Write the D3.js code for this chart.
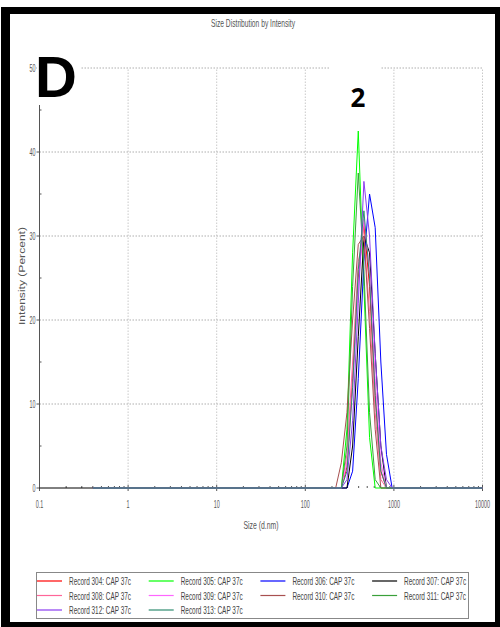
<!DOCTYPE html>
<html>
<head>
<meta charset="utf-8">
<script src="https://cdn.jsdelivr.net/npm/d3@7"></script>
<style>
  body { margin: 0; background: #fff; }
  svg { display: block; }
  .narrow { font-family: "Liberation Sans", Arial, sans-serif; }
</style>
</head>
<body>
<script>
// ─── DATA ─────────────────────────────────────────────────────────────────────

// size classes (d.nm) – only the ones around the peak, plus the two ends
const SIZES = [0.4, 220.2, 255.0, 295.3, 342.0, 396.1, 458.7, 531.2, 615.1, 712.4, 825.0, 955.4, 1106, 10000];

const R304 = [0, 0, 0, 2.5, 13, 25, 31.5, 24, 11, 2, 0, 0, 0, 0];
const R305 = [0, 0, 0, 7, 28, 42.5, 24, 6, 0, 0, 0, 0, 0, 0];
const R306 = [0, 0, 0, 0, 2, 13, 27, 35, 31, 15, 4, 0, 0, 0];
const R307 = [0, 0, 0, 0, 5, 18, 30, 28, 16, 5, 0, 0, 0, 0];
const R308 = [0, 0, 0, 4, 15, 27, 30, 21, 9, 1, 0, 0, 0, 0];
const R309 = [0, 0, 0, 3, 12, 24, 32, 26, 13, 3, 0, 0, 0, 0];
const R310 = [0, 0, 3, 9, 20, 29, 30, 19, 7, 0, 0, 0, 0, 0];
const R311 = [0, 0, 0, 5, 24, 37.5, 26, 9, 1, 0, 0, 0, 0, 0];
const R312 = [0, 0, 0, 1, 8, 22, 36.5, 30, 16, 5, 1, 0, 0, 0];
const R313 = [0, 0, 0, 2, 12, 26, 33, 25, 11, 2, 0, 0, 0, 0];

const RECORDS = [
  { name: "Record 304: CAP 37c", values: R304, color: "#ff0000" },
  { name: "Record 305: CAP 37c", values: R305, color: "#00ff00" },
  { name: "Record 306: CAP 37c", values: R306, color: "#0000ff" },
  { name: "Record 307: CAP 37c", values: R307, color: "#000000" },
  { name: "Record 308: CAP 37c", values: R308, color: "#ff6699" },
  { name: "Record 309: CAP 37c", values: R309, color: "#ff66ff" },
  { name: "Record 310: CAP 37c", values: R310, color: "#a85050" },
  { name: "Record 311: CAP 37c", values: R311, color: "#3aa03a" },
  { name: "Record 312: CAP 37c", values: R312, color: "#8a3cf0" },
  { name: "Record 313: CAP 37c", values: R313, color: "#2e8b70" },
];

const X_TICKS = [0.1, 1, 10, 100, 1000, 10000];
const Y_TICKS = [0, 10, 20, 30, 40, 50];

// the software's font is very condensed – squeeze text to a target width
function condense(sel, widthFn) {
  sel.attr("textLength", widthFn).attr("lengthAdjust", "spacingAndGlyphs");
}
const digitWidth = s => String(s).replace(".", "").length * 3 + (String(s).includes(".") ? 1.5 : 0);

// ─── LAYOUT ───────────────────────────────────────────────────────────────────

const W = 500, H = 627;
const svg = d3.select("body").append("svg").attr("width", W).attr("height", H);

// black frame
svg.append("rect").attr("x", 1).attr("y", 7).attr("width", 499).attr("height", 620).attr("fill", "#000");
svg.append("rect").attr("x", 10).attr("y", 14).attr("width", 485).attr("height", 608).attr("fill", "#fff");

const x = d3.scaleLog().domain([0.1, 10000]).range([39.5, 482.5]);
const y = d3.scaleLinear().domain([0, 50]).range([488, 68]);

// ── grid ──────────────────────────────────────────────────────────────────
const grid = svg.append("g").attr("stroke", "#999").attr("stroke-width", 0.8)
  .attr("stroke-dasharray", "1.5,1.5");

grid.selectAll(".hg").data(Y_TICKS.slice(1)).enter().append("line")
  .attr("x1", x(0.1)).attr("x2", x(10000))
  .attr("y1", d => y(d)).attr("y2", d => y(d));

grid.selectAll(".vg").data(X_TICKS.slice(1)).enter().append("line")
  .attr("x1", d => x(d)).attr("x2", d => x(d))
  .attr("y1", y(0)).attr("y2", y(50))
  .attr("stroke", "#bbb");

// ── axes ──────────────────────────────────────────────────────────────────
const axes = svg.append("g").attr("stroke", "#555").attr("stroke-width", 1);

axes.append("line").attr("x1", x(0.1)).attr("x2", x(0.1)).attr("y1", y(0)).attr("y2", y(50));

// y ticks (major every 10, minor every 5)
axes.selectAll(".yt").data(d3.range(0, 51, 5)).enter().append("line")
  .attr("x1", d => x(0.1) - (d % 10 === 0 ? 3 : 0)).attr("x2", d => x(0.1) + (d % 10 === 0 ? 0 : 2))
  .attr("y1", d => y(d)).attr("y2", d => y(d));

// x minor ticks
const minor = [];
for (let e = -1; e < 4; e++) for (let k = 2; k <= 9; k++) minor.push(k * Math.pow(10, e));
axes.selectAll(".xm").data(minor).enter().append("line")
  .attr("x1", d => x(d)).attr("x2", d => x(d))
  .attr("y1", y(0) - 2).attr("y2", y(0));
axes.selectAll(".xt").data(X_TICKS).enter().append("line")
  .attr("x1", d => x(d)).attr("x2", d => x(d))
  .attr("y1", y(0) - 3).attr("y2", y(0) + 3);

svg.append("g").attr("class", "narrow").attr("font-size", 11).attr("fill", "#555")
  .attr("text-anchor", "end")
  .selectAll("text").data(Y_TICKS).enter().append("text")
  .attr("x", x(0.1) - 4).attr("y", d => y(d) + 4)
  .text(d => d)
  .call(condense, digitWidth);

svg.append("g").attr("class", "narrow").attr("font-size", 11).attr("fill", "#555")
  .attr("text-anchor", "middle")
  .selectAll("text").data(X_TICKS).enter().append("text")
  .attr("x", d => x(d)).attr("y", 508)
  .text(d => d)
  .call(condense, digitWidth);

// ── data lines ────────────────────────────────────────────────────────────
const line = d3.line().x(d => x(d[0])).y(d => y(d[1]));

svg.append("g").attr("fill", "none").attr("stroke-width", 1)
  .selectAll("path").data(RECORDS).enter().append("path")
  .attr("stroke", d => d.color)
  .attr("d", d => line(SIZES.map((s, i) => [s, d.values[i]])));

// x axis line drawn from 0.1 up to first size class
axes.append("line").attr("x1", x(0.1)).attr("x2", x(SIZES[0])).attr("y1", y(0)).attr("y2", y(0))
  .attr("stroke", "#000");

// ── titles ────────────────────────────────────────────────────────────────
svg.append("text").attr("class", "narrow").attr("x", 253).attr("y", 27)
  .attr("text-anchor", "middle").attr("font-size", 10.5).attr("fill", "#555")
  .text("Size Distribution by Intensity")
  .call(condense, 84);

svg.append("text").attr("class", "narrow").attr("x", 261).attr("y", 529)
  .attr("text-anchor", "middle").attr("font-size", 10.5).attr("fill", "#555")
  .text("Size (d.nm)")
  .call(condense, 35);

svg.append("text").attr("transform", "translate(25,276) rotate(-90)")
  .attr("text-anchor", "middle").attr("font-size", 9.5).attr("fill", "#555")
  .attr("font-family", "Liberation Sans, Arial, sans-serif")
  .text("Intensity (Percent)")
  .call(condense, 98);

// ── panel labels ──────────────────────────────────────────────────────────
svg.append("rect").attr("x", 37).attr("y", 50).attr("width", 43).attr("height", 55).attr("fill", "#fff");
svg.append("text").attr("x", 35).attr("y", 97).attr("font-size", 58).attr("font-weight", "bold")
  .attr("font-family", "Liberation Sans, Arial, sans-serif").text("D");

svg.append("rect").attr("x", 330).attr("y", 62).attr("width", 51).attr("height", 50).attr("fill", "#fff");
svg.append("text").attr("x", 358).attr("y", 107).attr("text-anchor", "middle")
  .attr("font-size", 26).attr("font-weight", "bold")
  .attr("font-family", "Open Sans, Liberation Sans, sans-serif").text("2");

// ── legend ────────────────────────────────────────────────────────────────
svg.append("rect").attr("x", 36.5).attr("y", 572.5).attr("width", 432).attr("height", 46)
  .attr("fill", "#fff").attr("stroke", "#888");

const leg = svg.append("g").selectAll("g").data(RECORDS).enter().append("g")
  .attr("transform", (d, i) => `translate(${37 + (i % 4) * 111.7},${581 + Math.floor(i / 4) * 14.5})`);
leg.append("line").attr("x1", 0).attr("x2", 25).attr("stroke", d => d.color).attr("stroke-width", 1.2);
leg.append("text").attr("class", "narrow").attr("x", 32).attr("y", 4)
  .attr("font-size", 10.5).attr("fill", "#444").text(d => d.name)
  .call(condense, 62);
</script>
</body>
</html>
